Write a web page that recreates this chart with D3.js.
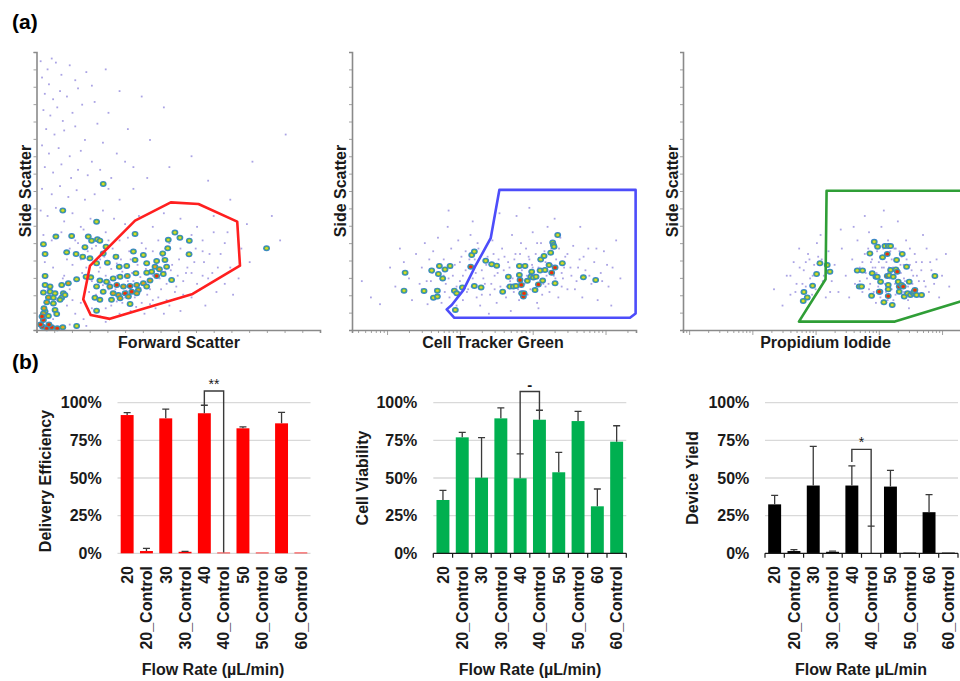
<!DOCTYPE html>
<html><head><meta charset="utf-8">
<script src="https://cdn.jsdelivr.net/npm/d3@7"></script>
<style>body{margin:0;background:#fff} svg{display:block;font-family:"Liberation Sans",Arial,sans-serif}</style>
</head><body><svg id="c" width="960" height="681"></svg>
<script>
// ---------- (a) flow cytometry data (linear channel units 0-1024 for linear axes, raw intensity for log axes) ----------
const fscFaint = [[15,990],[40,960],[55,1000],[70,985],[20,930],[45,905],[90,940],[120,975],[140,920],[30,870],[60,850],[85,880],[110,860],[150,890],[180,950],[200,900],[25,810],[50,790],[75,820],[95,770],[130,800],[165,830],[210,840],[250,960],[300,880],[35,740],[65,720],[100,735],[140,750],[175,700],[220,760],[260,800],[330,740],[380,860],[20,680],[45,650],[80,670],[120,640],[160,660],[200,620],[240,690],[290,650],[350,600],[410,700],[460,820],[30,600],[60,580],[90,610],[125,560],[150,590],[185,570],[230,590],[270,560],[320,620],[20,520],[55,500],[85,530],[115,490],[145,515],[175,480],[210,500],[260,520],[300,480],[350,520],[400,560],[480,600],[560,640],[620,550],[700,480],[780,620],[850,420],[900,720],[15,440],[40,420],[70,450],[100,400],[130,430],[160,380],[195,410],[240,440],[280,410],[320,390],[370,420],[420,380],[460,430],[520,410],[580,380],[640,420],[690,360],[740,300],[880,330],[25,350],[55,330],[90,360],[120,300],[150,320],[185,290],[215,310],[245,270],[275,300],[305,260],[335,290],[365,240],[395,300],[425,230],[455,270],[485,220],[515,260],[545,230],[575,300],[605,250],[635,210],[665,280],[700,230],[730,190],[770,250],[30,250],[60,230],[100,200],[130,240],[165,210],[200,180],[230,230],[260,150],[290,200],[320,120],[350,180],[380,100],[410,150],[440,120],[470,170],[500,140],[530,180],[560,120],[590,150],[620,190],[650,140],[680,170],[710,130],[40,150],[75,110],[110,90],[140,60],[170,40],[200,80],[230,50],[270,90],[300,60],[340,70],[390,60],[430,80],[480,90],[520,70],[120,20],[180,15],[60,40],[250,30],[610,90],[560,210],[330,340],[250,360],[440,330],[500,360],[600,330],[760,390]];
const fscHalo = [[160,260],[180,230],[205,250],[225,215],[250,200],[270,225],[290,245],[310,215],[330,180],[345,210],[375,195],[395,225],[420,200],[445,190],[465,215],[490,240],[510,200],[540,210],[570,250],[600,200],[625,280],[655,230],[190,140],[215,130],[240,165],[265,175],[285,150],[310,100],[325,145],[355,120],[375,155],[400,130],[420,110],[450,150],[470,110],[505,160],[530,130],[580,170],[160,100],[190,70],[250,80],[290,105],[360,85],[410,95],[460,60],[120,150],[130,110],[95,190],[110,260],[140,330],[170,370],[200,300],[230,260],[260,330],[300,330],[340,260],[380,320],[420,290],[480,320],[520,300],[560,350],[600,290],[640,360],[680,320]];
const fscDense = [[241,538,1],[95,440,1],[217,399,1],[70,344,1],[127,346,1],[25,316,1],[187,344,1],[199,329,1],[220,334,1],[229,329,1],[175,305,1],[143,280,1],[109,286,1],[31,280,1],[167,270,1],[193,264,1],[356,354,1],[251,307,1],[241,282,1],[287,270,1],[350,289,1],[386,276,1],[356,258,1],[326,236,1],[299,233,1],[256,248,1],[217,246,1],[398,246,1],[434,254,1],[456,282,1],[474,301,1],[476,332,1],[500,359,1],[518,340,1],[552,329,1],[551,279,1],[464,258,1],[428,233,2],[416,215,1],[444,224,2],[398,211,1],[359,209,1],[328,199,2],[302,196,1],[277,190,1],[253,178,1],[229,182,1],[196,194,1],[179,196,1],[145,187,1],[115,172,2],[91,166,1],[31,199,1],[31,166,1],[49,141,1],[25,138,1],[67,135,1],[97,135,1],[43,120,2],[61,119,1],[91,119,1],[37,102,2],[61,98,1],[67,74,1],[31,68,1],[73,59,1],[43,52,1],[265,160,2],[290,166,3],[314,160,2],[338,162,3],[362,166,2],[386,172,2],[410,182,2],[434,199,3],[458,206,1],[368,147,2],[344,141,3],[320,135,3],[296,129,2],[277,135,2],[241,141,1],[217,160,1],[211,119,1],[229,111,1],[271,111,1],[302,117,2],[332,123,2],[362,135,2],[398,160,1],[470,233,1],[488,184,1],[338,96,1],[217,71,1],[145,15,1],[831,301,1],[85,111,1],[103,129,1],[49,160,1],[22,12,3],[37,6,3],[55,10,3],[75,6,3],[95,10,2],[25,37,3],[25,61,2],[27,80,2],[15,20,3],[45,20,3],[20,50,3]];
const fscGate = [[193,236],[169,113],[196,55],[265,41],[564,133],[735,237],[725,399],[585,464],[485,470],[356,403]];

const ctgFaint = [[45,180],[60,120],[80,95],[110,230],[130,160],[150,300],[170,250],[200,190],[220,110],[250,280],[280,170],[300,230],[330,320],[360,95],[380,260],[400,180],[430,290],[460,150],[500,340],[520,210],[560,100],[600,260],[640,170],[680,380],[720,120],[760,300],[800,200],[850,240],[900,90],[950,330],[1000,180],[1050,270],[1100,110],[1200,220],[1300,150],[1400,350],[1500,190],[1600,260],[1700,120],[1800,300],[1900,90],[2000,220],[2200,170],[2400,270],[2600,130],[2800,330],[3000,200],[3200,100],[3400,260],[3600,160],[3800,300],[4000,220],[4300,120],[4600,250],[4900,180],[5200,350],[5500,140],[5800,280],[6100,200],[6500,110],[6900,320],[7300,240],[7700,170],[8100,300],[8500,130],[9000,260],[9500,210],[10000,360],[10500,150],[11000,280],[11500,100],[12000,230],[13000,320],[14000,170],[15000,250],[16000,380],[17000,140],[18000,300],[19500,200],[21000,260],[22500,120],[24000,340],[26000,190],[28000,270],[30000,150],[33000,230],[36000,310],[40000,180],[44000,260],[48000,120],[53000,220],[58000,300],[64000,170],[70000,250],[78000,110],[86000,210],[95000,290],[110000,160],[125000,230],[140000,330],[160000,190],[3500,430],[6000,420],[9000,450],[20000,410],[1500,400],[700,440],[45000,380],[120000,90],[2500,60],[5000,70],[12000,80],[3000,150],[4500,200],[7000,190],[10000,230],[15000,160],[2000,130],[1200,290],[800,150],[25000,210],[600,200]];
const ctgHalo = [[300,150],[350,180],[420,210],[480,120],[550,240],[620,140],[700,190],[780,230],[900,160],[1000,250],[1100,200],[1250,140],[1350,260],[1450,160],[1650,210],[1750,320],[2100,190],[2300,240],[2700,170],[2900,280],[3300,210],[3700,140],[4100,270],[4400,160],[4800,230],[5300,190],[5600,260],[6300,150],[6700,280],[7100,220],[7500,130],[8300,200],[8800,270],[9300,150],[9800,240],[10800,190],[11500,320],[12500,260],[13500,130],[14500,290],[15500,200],[16500,170],[18500,240],[20500,190],[23000,300],[25000,160],[27000,230],[30000,280],[34000,200],[38000,150],[42000,230],[50000,270],[60000,200],[75000,300],[90000,180],[105000,240]];
const ctgDense = [[177,211,1],[171,145,1],[322,144,1],[410,219,1],[433,119,1],[491,123,1],[491,145,1],[507,206,1],[523,236,1],[581,190,1],[625,223,1],[733,236,1],[840,145,1],[905,135,1],[1082,157,1],[1409,233,3],[1453,276,1],[1581,289,1],[1581,162,1],[1954,157,1],[2264,255,1],[2735,242,1],[3206,237,1],[3873,141,1],[4634,196,1],[4885,160,1],[5430,160,1],[5902,162,1],[6561,236,1],[6561,203,1],[6699,184,3],[6982,166,3],[7063,135,1],[7447,123,3],[7603,135,3],[7850,236,1],[8453,181,1],[9397,196,1],[9683,215,1],[10210,193,1],[10770,147,1],[11120,196,1],[11970,168,3],[12620,219,1],[12880,260,1],[13710,182,1],[14320,273,1],[14760,221,1],[16750,239,1],[17660,285,1],[18240,211,3],[18830,322,1],[19230,313,1],[19650,307,1],[20280,230,3],[20280,172,1],[22050,350,1],[25530,246,1],[49650,194,1],[73280,184,1],[867,74,1]];
const ctgGate = [[3483,516],[259000,516],[259000,61],[216800,45],[840,45],[659,76],[773,92],[1117,147],[1614,233],[2649,338]];

const piFaint = [[220,150],[300,90],[350,200],[400,130],[450,250],[500,170],[550,300],[600,110],[650,220],[700,160],[760,280],[820,190],[880,130],[950,240],[1050,320],[1150,150],[1250,260],[1350,200],[1450,120],[1600,290],[1800,180],[2000,240],[2300,140],[2600,300],[3000,200],[3400,120],[3800,260],[4200,170],[4600,330],[5000,230],[5500,140],[6000,280],[6500,190],[7000,360],[7500,250],[8000,120],[8600,310],[9200,210],[9800,160],[10500,270],[11000,380],[12000,230],[13000,140],[14000,330],[15000,190],[16000,260],[17000,110],[18500,300],[20000,210],[21500,150],[23000,270],[25000,190],[27000,330],[29000,110],[31000,240],[34000,170],[37000,280],[40000,200],[44000,130],[48000,250],[52000,180],[57000,300],[62000,140],[68000,220],[75000,170],[82000,260],[90000,120],[100000,200],[115000,280],[130000,160],[6000,420],[12000,440],[20000,400],[9000,100],[16000,90],[30000,80],[4000,380],[50000,350],[2500,370],[800,260],[1200,350],[10000,250],[14000,210],[18000,170],[22000,240],[8000,230],[11000,180],[25000,140],[35000,200],[7000,150]];
const piHalo = [[5000,180],[5500,250],[6200,210],[6800,300],[7300,170],[7800,260],[8300,140],[8800,230],[9400,290],[10000,190],[10600,120],[11200,230],[11800,300],[12500,170],[13200,250],[13800,110],[14500,230],[15200,290],[16000,150],[16800,230],[17600,300],[18400,130],[19300,250],[20200,180],[21200,290],[22300,210],[23500,130],[24700,240],[26000,180],[27500,260],[29000,160],[31000,300],[33000,220],[36000,150],[39000,250],[43000,180],[47000,220],[55000,160],[65000,250],[80000,200],[400,200],[480,140],[560,230],[620,170],[700,250],[780,120],[900,200],[1000,150],[1100,270],[1300,180],[1500,220],[1700,140]];
const piDense = [[654,140,1],[738,120,1],[638,107,1],[897,163,1],[1037,206,1],[1171,246,1],[1529,239,1],[1686,215,1],[4560,219,1],[5538,219,1],[4905,160,1],[5340,160,1],[7230,282,1],[7870,209,1],[8470,325,1],[8995,196,3],[9441,196,1],[9560,307,1],[10660,178,1],[10410,141,1],[11470,268,1],[12490,309,1],[13600,280,3],[14100,309,1],[15350,309,1],[13600,199,3],[14620,201,1],[14100,166,1],[14100,150,1],[14100,125,3],[12040,102,1],[16310,92,1],[15350,221,1],[18640,223,1],[19100,258,1],[20280,178,1],[21040,160,3],[21040,141,1],[23480,280,1],[22910,166,1],[24330,160,3],[25240,123,1],[27480,233,1],[28510,135,1],[30270,178,1],[31790,129,1],[35040,135,1],[35890,141,1],[37240,147,3],[39540,129,1],[47440,129,1],[77090,199,1],[7686,126,1],[10160,141,3],[19560,215,3],[16920,196,1]];
const piGate = [[1493,513],[262144,513],[262144,114],[17970,31],[545,31],[1439,187]];

// ---------- (b) bar chart data ----------
const categories = ["20","20_Control","30","30_Control","40","40_Control","50","50_Control","60","60_Control"];
const deliveryMean = [0.918,0.015,0.896,0.010,0.930,0.005,0.830,0.005,0.863,0.005];
const deliverySD   = [0.016,0.018,0.062,0.003,0.053,0,0.009,0,0.073,0];
const viabilityMean = [0.354,0.770,0.502,0.896,0.498,0.887,0.538,0.878,0.312,0.741];
const viabilitySD   = [0.064,0.033,0.266,0.069,0.162,0.063,0.132,0.065,0.115,0.106];
const yieldMean = [0.325,0.015,0.450,0.010,0.450,0.000,0.443,0.005,0.273,0.005];
const yieldSD   = [0.060,0.010,0.260,0.005,0.130,0.180,0.107,0,0.117,0];
const yTickValues = [0,0.25,0.5,0.75,1];
const yTickLabels = ["0%","25%","50%","75%","100%"];
// bracket: [from, to, top value, left foot, right foot, label]
const deliveryBracket = ["40","40_Control",1.078,0.985,0.005,"**"];
const viabilityBracket = ["40","40_Control",1.074,0.66,0.95,"-"];
const yieldBracket = ["40","40_Control",0.69,0.606,0.18,"*"];

const svg = d3.select("#c");

svg.append("text").attr("x",12).attr("y",29).attr("font-size",21).attr("font-weight","bold").text("(a)");
svg.append("text").attr("x",12).attr("y",369).attr("font-size",21).attr("font-weight","bold").text("(b)");

// ---------- scatter panels ----------
const linTicks = d3.range(0, 1025, 64);
const panels = [
  {faint: fscFaint.concat(fscHalo), dense: fscDense, gate: fscGate, gateColor: "#ff1f1f", xLog: false, xDomain: [0,1024], xRange: [36.5,320], xTitle: "Forward Scatter", xTitleX: 179, yTitleX: 25},
  {faint: ctgFaint.concat(ctgHalo), dense: ctgDense, gate: ctgGate, gateColor: "#4d4dfa", xLog: true, xDomain: [33,262144], xRange: [352,636], xTitle: "Cell Tracker Green", xTitleX: 493, yTitleX: 340},
  {faint: piFaint.concat(piHalo), dense: piDense, gate: piGate, gateColor: "#2f9e36", xLog: true, xDomain: [8,262144], xRange: [683,968.5], xTitle: "Propidium Iodide", xTitleX: 825.5, yTitleX: 672}
];
const levelColor = {1: "#e2d42a", 2: "#f29a1e", 3: "#ee2a10"};

panels.forEach(p => {
  const g = svg.append("g");
  const x = (p.xLog ? d3.scaleLog() : d3.scaleLinear()).domain(p.xDomain).range(p.xRange);
  const y = d3.scaleLinear().domain([0,1024]).range([330,52]);
  g.selectAll(null).data(p.faint).enter().append("rect")
    .attr("x", d => x(d[0]) - 0.9).attr("y", d => y(d[1]) - 0.9)
    .attr("width", 1.8).attr("height", 1.8).attr("fill", "#aaa3e4");
  const blobs = g.selectAll(null).data(p.dense).enter().append("g")
    .attr("transform", d => `translate(${x(d[0])},${y(d[1])})`);
  blobs.append("ellipse").attr("rx", 3.4).attr("ry", 3).attr("fill", "#3a84cc");
  blobs.append("ellipse").attr("rx", 2.5).attr("ry", 2.1).attr("fill", "#52b45a");
  blobs.append("ellipse").attr("rx", d => d[2] === 3 ? 1.8 : 1.4).attr("ry", d => d[2] === 3 ? 1.6 : 1.2)
    .attr("fill", d => levelColor[d[2]]);
  g.append("path").datum(p.gate)
    .attr("d", d3.line().x(d => x(d[0])).y(d => y(d[1])).curve(d3.curveLinearClosed))
    .attr("fill", "none").attr("stroke", p.gateColor).attr("stroke-width", 2.6).attr("stroke-linejoin", "round");
  const axisColor = "#8a8a8a";
  const ya = g.append("g").attr("transform", `translate(${p.xRange[0]},0)`)
    .call(d3.axisLeft(y).tickValues(linTicks).tickSize(3).tickFormat(""));
  const xaG = g.append("g").attr("transform", "translate(0,330)");
  if (!p.xLog) {
    xaG.call(d3.axisBottom(x).tickValues(linTicks).tickSize(3).tickFormat(""));
  } else {
    xaG.call(d3.axisBottom(x).ticks(40).tickSize(3).tickFormat(""));
    xaG.selectAll(".tick line").attr("y2", d => Math.abs(Math.log10(d) - Math.round(Math.log10(d))) < 1e-9 ? 5 : 3);
  }
  [ya, xaG].forEach(a => {
    a.select(".domain").attr("stroke", axisColor).attr("stroke-width", 1.6);
    a.selectAll(".tick line").attr("stroke", axisColor).attr("stroke-width", 0.8);
  });
  g.append("text").attr("x", p.xTitleX).attr("y", 348).attr("text-anchor", "middle")
    .attr("font-size", 16).attr("font-weight", "bold").attr("fill", "#1a1a1a").text(p.xTitle);
  g.append("text").attr("transform", `translate(${p.yTitleX},191) rotate(-90)`).attr("dy", "0.35em")
    .attr("text-anchor", "middle").attr("font-size", 16).attr("font-weight", "bold").attr("fill", "#1a1a1a").text("Side Scatter");
});

// ---------- bar charts ----------
const barCharts = [
  {means: deliveryMean, sds: deliverySD, color: "#ff0000", range: [117.5,310.5], labelX: 101.7, title: "Delivery Efficiency", titleX: 45.5, titleY: 481, xTitle: "Flow Rate (µL/min)", xTitleX: 213, blackAxis: false, bracket: deliveryBracket},
  {means: viabilityMean, sds: viabilitySD, color: "#00b050", range: [433.3,626.3], labelX: 417.3, title: "Cell Viability", titleX: 362, titleY: 478, xTitle: "Flow Rate (µL/min)", xTitleX: 530, blackAxis: true, bracket: viabilityBracket},
  {means: yieldMean, sds: yieldSD, color: "#000000", range: [765,958], labelX: 749.3, title: "Device Yield", titleX: 692.5, titleY: 478, xTitle: "Flow Rate µL/min", xTitleX: 861, blackAxis: true, bracket: yieldBracket}
];

barCharts.forEach(c => {
  const g = svg.append("g");
  const xb = d3.scaleBand().domain(categories).range(c.range).paddingInner(0.33).paddingOuter(0.165);
  const y = d3.scaleLinear().domain([0,1]).range([553.3,402.7]);
  const rows = categories.map((k,i) => ({k, m: c.means[i], s: c.sds[i]}));
  g.selectAll(null).data(yTickValues.filter(v => v > 0 || !c.blackAxis)).enter().append("line")
    .attr("x1", c.range[0]).attr("x2", c.range[1]).attr("y1", d => y(d)).attr("y2", d => y(d))
    .attr("stroke", "#d9d9d9").attr("stroke-width", 1.3);
  g.selectAll(null).data(yTickValues).enter().append("text")
    .attr("x", c.labelX).attr("y", d => y(d)).attr("dy", "0.36em").attr("text-anchor", "end")
    .attr("font-size", 16).attr("font-weight", "bold").attr("fill", "#1a1a1a")
    .text((d,i) => yTickLabels[i]);
  g.selectAll(null).data(rows).enter().append("rect")
    .attr("x", d => xb(d.k)).attr("width", xb.bandwidth())
    .attr("y", d => y(d.m)).attr("height", d => y(0) - y(d.m)).attr("fill", c.color);
  const eb = rows.filter(d => d.s > 0);
  g.selectAll(null).data(eb).enter().append("path")
    .attr("d", d => {
      const cx = xb(d.k) + xb.bandwidth()/2, t = y(d.m + d.s);
      return `M${cx},${y(d.m)}V${t}M${cx-3.5},${t}H${cx+3.5}`;
    })
    .attr("fill", "none").attr("stroke", "#3a3a3a").attr("stroke-width", 1.3);
  if (c.blackAxis) {
    const step = xb.step();
    g.append("line").attr("x1", c.range[0]).attr("x2", c.range[1]).attr("y1", y(0)).attr("y2", y(0))
      .attr("stroke", "#1a1a1a").attr("stroke-width", 1.3);
    g.selectAll(null).data(d3.range(categories.length + 1)).enter().append("line")
      .attr("x1", i => c.range[0] + i*step).attr("x2", i => c.range[0] + i*step)
      .attr("y1", y(0)).attr("y2", y(0) + 4.5).attr("stroke", "#1a1a1a").attr("stroke-width", 1.2);
  }
  g.selectAll(null).data(categories).enter().append("text")
    .attr("transform", d => `translate(${xb(d) + xb.bandwidth()/2},566) rotate(-90)`)
    .attr("dy", "0.36em").attr("text-anchor", "end")
    .attr("font-size", 16).attr("font-weight", "bold").attr("fill", "#1a1a1a").text(d => d);
  g.append("text").attr("x", c.xTitleX).attr("y", 675).attr("text-anchor", "middle")
    .attr("font-size", 16).attr("font-weight", "bold").attr("fill", "#1a1a1a").text(c.xTitle);
  g.append("text").attr("transform", `translate(${c.titleX},${c.titleY}) rotate(-90)`).attr("dy", "0.35em")
    .attr("text-anchor", "middle").attr("font-size", 16).attr("font-weight", "bold").attr("fill", "#1a1a1a").text(c.title);
  const b = c.bracket;
  const xl = xb(b[0]) + xb.bandwidth()/2, xr = xb(b[1]) + xb.bandwidth()/2;
  g.append("path").attr("d", `M${xl},${y(b[3])}V${y(b[2])}H${xr}V${y(b[4])}`)
    .attr("fill", "none").attr("stroke", "#3a3a3a").attr("stroke-width", 1.4);
  g.append("text").attr("x", (xl + xr)/2).attr("y", y(b[2]) - 2).attr("text-anchor", "middle")
    .attr("font-size", b[5] === "-" ? 15 : 14).attr("font-weight", b[5] === "-" ? "bold" : "normal")
    .attr("fill", "#1a1a1a").text(b[5]);
});
</script></body></html>
